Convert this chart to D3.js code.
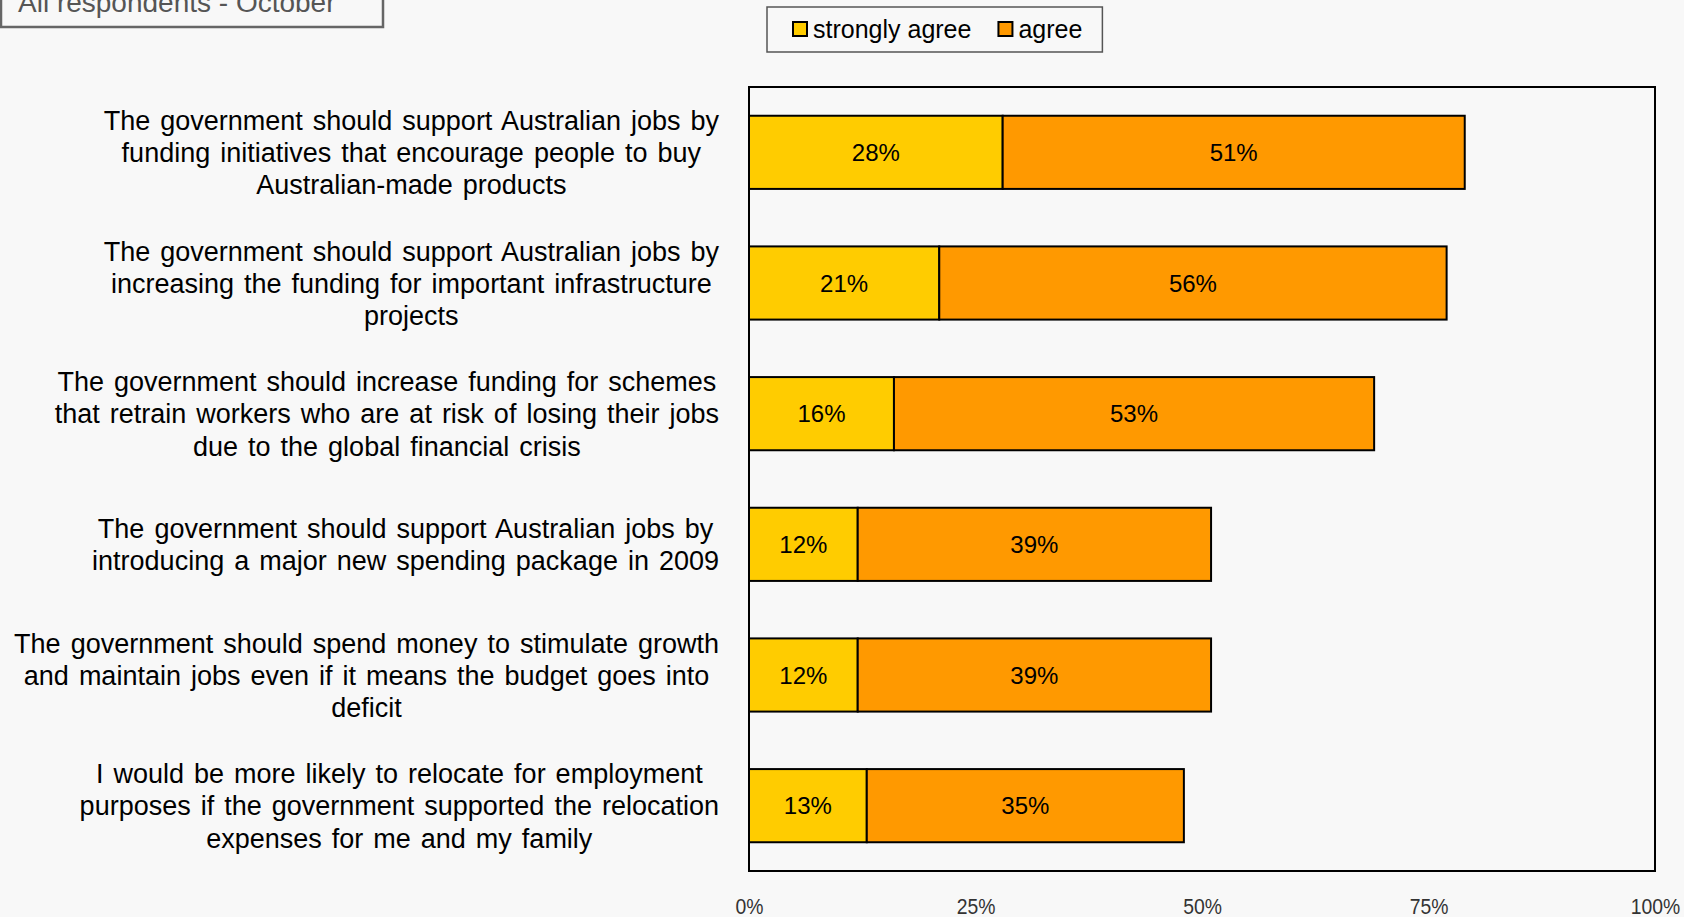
<!DOCTYPE html>
<html>
<head>
<meta charset="utf-8">
<script src="https://cdn.jsdelivr.net/npm/d3@7"></script>
<style>
  html, body { margin: 0; padding: 0; background: #f8f8f8; overflow: hidden; }
  svg { display: block; font-family: "Liberation Sans", Arial, sans-serif; }
</style>
</head>
<body>
<div id="chart"></div>
<script>
// data
const categories = [
  ["The government should support Australian jobs by", "funding initiatives that encourage people to buy", "Australian-made products"],
  ["The government should support Australian jobs by", "increasing the funding for important infrastructure", "projects"],
  ["The government should increase funding for schemes", "that retrain workers who are at risk of losing their jobs", "due to the global financial crisis"],
  ["The government should support Australian jobs by", "introducing a major new spending package in 2009"],
  ["The government should spend money to stimulate growth", "and maintain jobs even if it means the budget goes into", "deficit"],
  ["I would be more likely to relocate for employment", "purposes if the government supported the relocation", "expenses for me and my family"]
];
const stronglyAgree = [28, 21, 16, 12, 12, 13];
const agree = [51, 56, 53, 39, 39, 35];
const seriesNames = ["strongly agree", "agree"];
const tickValues = [0, 25, 50, 75, 100];
const title = "All respondents - October";

const W = 1684, H = 917;
let m = { left: 749, right: 29, top: 87, bottom: 46 };
let width = W - m.left - m.right,
    height = H - m.top - m.bottom;

const colors = ["#ffcc00", "#ff9900"];

let svg = d3.select("#chart").append("svg")
    .attr("width", W)
    .attr("height", H);

svg.append("rect").attr("width", W).attr("height", H).attr("fill", "#f8f8f8");

let x = d3.scaleLinear().domain([0, 100]).range([0, width]);
let y = d3.scaleBand().domain(d3.range(categories.length)).range([0, height])
    .paddingInner(0.44).paddingOuter(0.22);

let vis = svg.append("g")
    .attr("transform", "translate(" + m.left + "," + m.top + ")");

// plot frame
vis.append("rect")
    .attr("x", 0).attr("y", 0)
    .attr("width", width).attr("height", height)
    .attr("fill", "#f8f8f8")
    .attr("stroke", "#000")
    .attr("stroke-width", 2);

// stacked bars
let stacked = categories.map((c, i) => ({ i: i, vals: [stronglyAgree[i], agree[i]] }));

stacked.forEach((d) => {
    let x0 = 0;
    d.vals.forEach((v, s) => {
        let g = vis.append("g").attr("class", "seg");
        g.append("rect")
            .attr("x", x(x0))
            .attr("y", y(d.i))
            .attr("width", x(x0 + v) - x(x0))
            .attr("height", y.bandwidth())
            .attr("fill", colors[s])
            .attr("stroke", "#000")
            .attr("stroke-width", 2);
        g.append("text")
            .attr("x", x(x0 + v / 2))
            .attr("y", y(d.i) + y.bandwidth() / 2)
            .attr("dy", "0.36em")
            .style("text-anchor", "middle")
            .style("font-size", "24px")
            .attr("fill", "#000")
            .text(v + "%");
        x0 += v;
    });
});

// x axis labels (no ticks / no line)
let axis = vis.append("g")
    .attr("transform", "translate(0," + height + ")")
    .call(d3.axisBottom(x).tickValues(tickValues).tickSize(0).tickFormat((l) => l + "%"));
axis.select(".domain").remove();
axis.selectAll("text")
    .attr("y", 0)
    .attr("dy", 0)
    .attr("transform", "translate(0,43) scale(0.88,1)")
    .style("font-size", "22px")
    .style("font-family", "'Liberation Sans', Arial, sans-serif")
    .attr("fill", "#333");

// category labels, lines centred within a right-aligned block
const labelRight = 719, lineH = 32.2;
categories.forEach((lines, i) => {
    let g = svg.append("g").attr("class", "catLabel");
    let cy = m.top + y(i) + y.bandwidth() / 2;
    let texts = lines.map((l, k) => g.append("text")
        .attr("y", cy + (k - (lines.length - 1) / 2) * lineH)
        .attr("dy", "0.36em")
        .style("font-size", "27px")
        .style("word-spacing", "2.5px")
        .style("text-anchor", "middle")
        .attr("fill", "#000")
        .text(l));
    let maxW = d3.max(texts, (t) => t.node().getComputedTextLength());
    texts.forEach((t) => t.attr("x", labelRight - maxW / 2));
});

// legend
let legend = svg.append("g").attr("transform", "translate(767,7)");
let legBox = legend.append("rect")
    .attr("x", 0).attr("y", 0).attr("height", 45)
    .attr("fill", "#f8f8f8")
    .attr("stroke", "#555")
    .attr("stroke-width", 1.5);
let lx = 26;
seriesNames.forEach((f, s) => {
    legend.append("rect")
        .attr("x", lx).attr("y", 15)
        .attr("width", 14).attr("height", 14)
        .attr("fill", colors[s])
        .attr("stroke", "#000")
        .attr("stroke-width", 2);
    let t = legend.append("text")
        .attr("x", lx + 20)
        .attr("y", 22)
        .attr("dy", "0.36em")
        .style("font-size", "25px")
        .attr("fill", "#000")
        .text(f);
    lx += 20 + t.node().getComputedTextLength() + 27;
});
legBox.attr("width", lx - 27 + 20);

// title box (partly off the top of the frame)
svg.append("rect")
    .attr("x", 1).attr("y", -20)
    .attr("width", 382).attr("height", 47)
    .attr("fill", "#f8f8f8")
    .attr("stroke", "#666")
    .attr("stroke-width", 2.5);
svg.append("text")
    .attr("x", 18).attr("y", 12)
    .style("font-size", "28px")
    .attr("fill", "#555")
    .text(title);
</script>
</body>
</html>
